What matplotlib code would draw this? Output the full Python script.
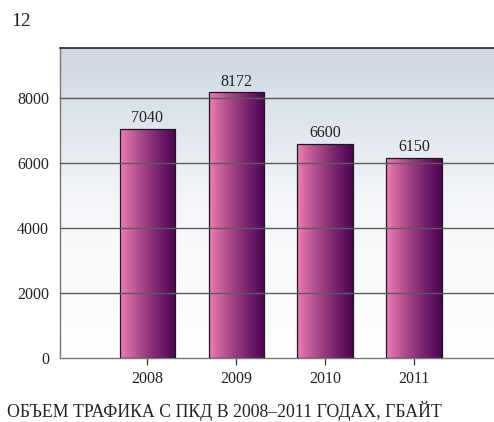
import numpy as np
import matplotlib
matplotlib.use('Agg')
import matplotlib.pyplot as plt
from matplotlib.colors import LinearSegmentedColormap

# Объем трафика с ПКД, Гбайт
years = ['2008', '2009', '2010', '2011']
traffic = [7040, 8172, 6600, 6150]
yticks = [0, 2000, 4000, 6000, 8000]

plt.rcParams['font.family'] = ['Liberation Serif', 'DejaVu Serif']

fig = plt.figure(figsize=(4.94, 4.22), dpi=100)
ax = fig.add_axes([0.1215, 0.1517, 0.8785, 0.7346])

x = np.arange(len(years))
ax.set_xlim(-0.98, 3.9)
ax.set_ylim(0, 9540)

# фон с градиентом
bg = LinearSegmentedColormap.from_list('bg', ['#ffffff', '#f4f6f9', '#cdd6e1'])
grad_v = np.linspace(0, 1, 256).reshape(-1, 1)
ax.imshow(grad_v, cmap=bg, aspect='auto', origin='lower',
          extent=[-0.98, 3.9, 0, 9540], zorder=0)

# столбцы с горизонтальным градиентом
bar_cmap = LinearSegmentedColormap.from_list('bar', ['#ef7db6', '#b04e8c', '#7a2470', '#4c0350'])
grad_h = np.linspace(0, 1, 256).reshape(1, -1)
bars = ax.bar(x, traffic, width=0.62, facecolor='none', edgecolor='#1a1a1a',
              linewidth=0.9, zorder=3)
for b in bars:
    bx, by = b.get_x(), b.get_y()
    w, h = b.get_width(), b.get_height()
    im = ax.imshow(grad_h, cmap=bar_cmap, aspect='auto',
                   extent=[bx, bx + w, by, by + h], zorder=2)
    im.set_clip_path(b)

for xi, v in zip(x, traffic):
    ax.annotate(str(v), (xi, v), textcoords='offset points', xytext=(0, 2),
                ha='center', va='bottom', fontsize=11.5, color='#222222')

# сетка
for yv in yticks[1:]:
    ax.axhline(yv, color='#5a5a5a', linewidth=1.0, zorder=4)

ax.set_yticks(yticks)
ax.set_xticks(x)
ax.set_xticklabels(years)
ax.tick_params(axis='y', length=0, pad=8, labelsize=11.5, labelcolor='#222222')
ax.tick_params(axis='x', length=5, width=0.9, pad=4.5, labelsize=11.5,
               labelcolor='#222222', color='#333333', direction='out')

ax.spines['right'].set_visible(False)
ax.spines['top'].set_color('#222222')
ax.spines['top'].set_linewidth(1.2)
ax.spines['left'].set_color('#777777')
ax.spines['bottom'].set_color('#777777')
ax.spines['left'].set_linewidth(1.0)
ax.spines['bottom'].set_linewidth(1.0)

fig.text(0.022, 0.950, '12', fontsize=14, color='#222222', va='center', ha='left')
fig.text(0.015, 0.026, 'ОБЪЕМ ТРАФИКА С ПКД В 2008–2011 ГОДАХ, ГБАЙТ',
         fontsize=12.8, color='#222222', va='center', ha='left')

fig.savefig('out.png', dpi=100)
